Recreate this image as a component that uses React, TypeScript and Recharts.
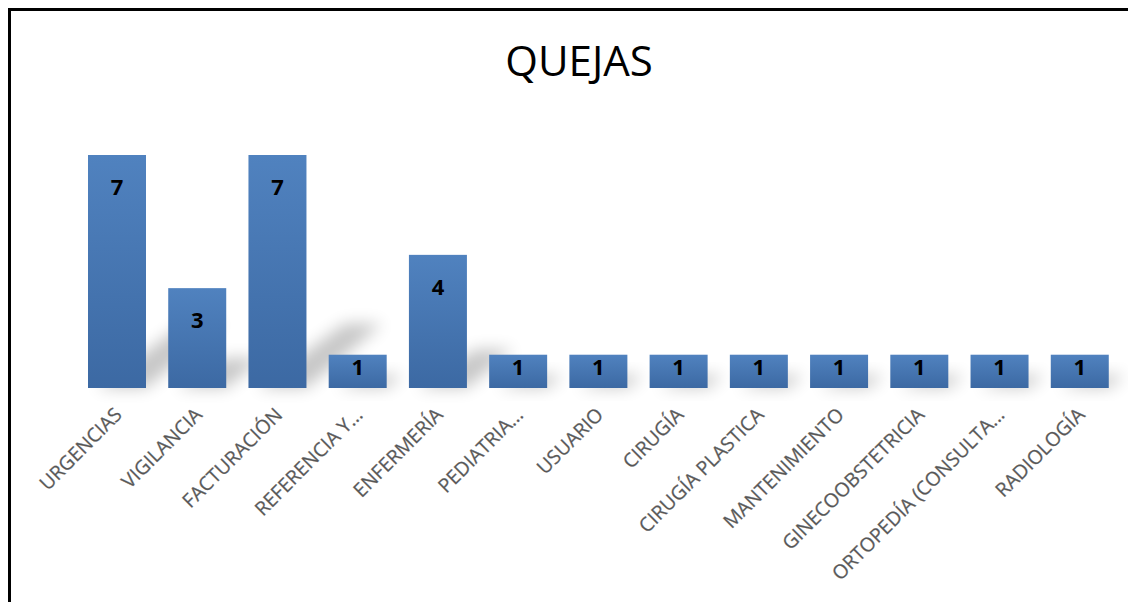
import { Bar, BarChart, LabelList, XAxis, YAxis } from "recharts";

const categories = [
  "URGENCIAS",
  "VIGILANCIA",
  "FACTURACIÓN",
  "REFERENCIA Y...",
  "ENFERMERÍA",
  "PEDIATRIA...",
  "USUARIO",
  "CIRUGÍA",
  "CIRUGÍA PLASTICA",
  "MANTENIMIENTO",
  "GINECOOBSTETRICIA",
  "ORTOPEDÍA (CONSULTA...",
  "RADIOLOGÍA",
];

const quejas = [7, 3, 7, 1, 4, 1, 1, 1, 1, 1, 1, 1, 1];

const data = categories.map((area, i) => ({ area, quejas: quejas[i] }));

const FONT = "'Open Sans', 'DejaVu Sans', sans-serif";

function ShadowBar(props: any) {
  const { x, y, width, height } = props;
  if (!height || height <= 0) return null;
  const base = y + height;
  const dy = height * 0.26 + 4;
  const dx = height * 0.3 + 6;
  const d = `M${x + width * 0.15},${base} L${x + width},${base} L${x + width + dx},${base - dy} L${x + width * 0.35 + dx},${base - dy} Z`;
  return (
    <g>
      <path d={d} fill="#000" opacity={0.22} filter="url(#shadowBlur)" />
      <rect x={x} y={y} width={width} height={height} fill="url(#barFill)" />
    </g>
  );
}

function ValueLabel(props: any) {
  const { x, y, width, height, value } = props;
  const center = height > 60 ? y + 32 : y + 12;
  return (
    <text
      x={x + width / 2}
      y={center + 8}
      textAnchor="middle"
      fontFamily={FONT}
      fontWeight={700}
      fontSize={22}
      fill="#000"
    >
      {value}
    </text>
  );
}

function AreaTick(props: any) {
  const { x, y, payload } = props;
  const px = x + 6;
  const py = y + 28;
  return (
    <text
      x={px}
      y={py}
      transform={`rotate(-45, ${px}, ${py})`}
      textAnchor="end"
      fontFamily={FONT}
      fontSize={19.5}
      fill="#555"
      stroke="#777"
      strokeWidth={0.3}
    >
      {payload.value}
    </text>
  );
}

export default function App() {
  return (
    <div
      style={{
        position: "relative",
        width: 1125,
        height: 591,
        borderLeft: "3px solid #000",
        borderTop: "3px solid #000",
        background: "#fff",
      }}
    >
      <BarChart
        width={1125}
        height={591}
        data={data}
        margin={{ top: 144, right: 16, left: 66, bottom: 0 }}
      >
        <defs>
          <linearGradient id="barFill" x1="0" y1="0" x2="0" y2="1">
            <stop offset="0%" stopColor="#5082bf" />
            <stop offset="100%" stopColor="#3c69a3" />
          </linearGradient>
          <filter id="shadowBlur" x="-100%" y="-100%" width="300%" height="300%">
            <feGaussianBlur stdDeviation="8" />
          </filter>
        </defs>
        <XAxis
          dataKey="area"
          interval={0}
          height={214}
          axisLine={false}
          tickLine={false}
          tickSize={0}
          tickMargin={0}
          tick={<AreaTick />}
        />
        <YAxis hide domain={[0, 7]} />
        <Bar dataKey="quejas" barSize={58} shape={<ShadowBar />} isAnimationActive={false}>
          <LabelList dataKey="quejas" content={<ValueLabel />} />
        </Bar>
      </BarChart>
      <svg
        width={1125}
        height={120}
        style={{ position: "absolute", left: 0, top: 0, pointerEvents: "none" }}
      >
        <text x={568} y={65} textAnchor="middle" fontFamily={FONT} fontSize={42} fill="#000">
          QUEJAS
        </text>
      </svg>
    </div>
  );
}
